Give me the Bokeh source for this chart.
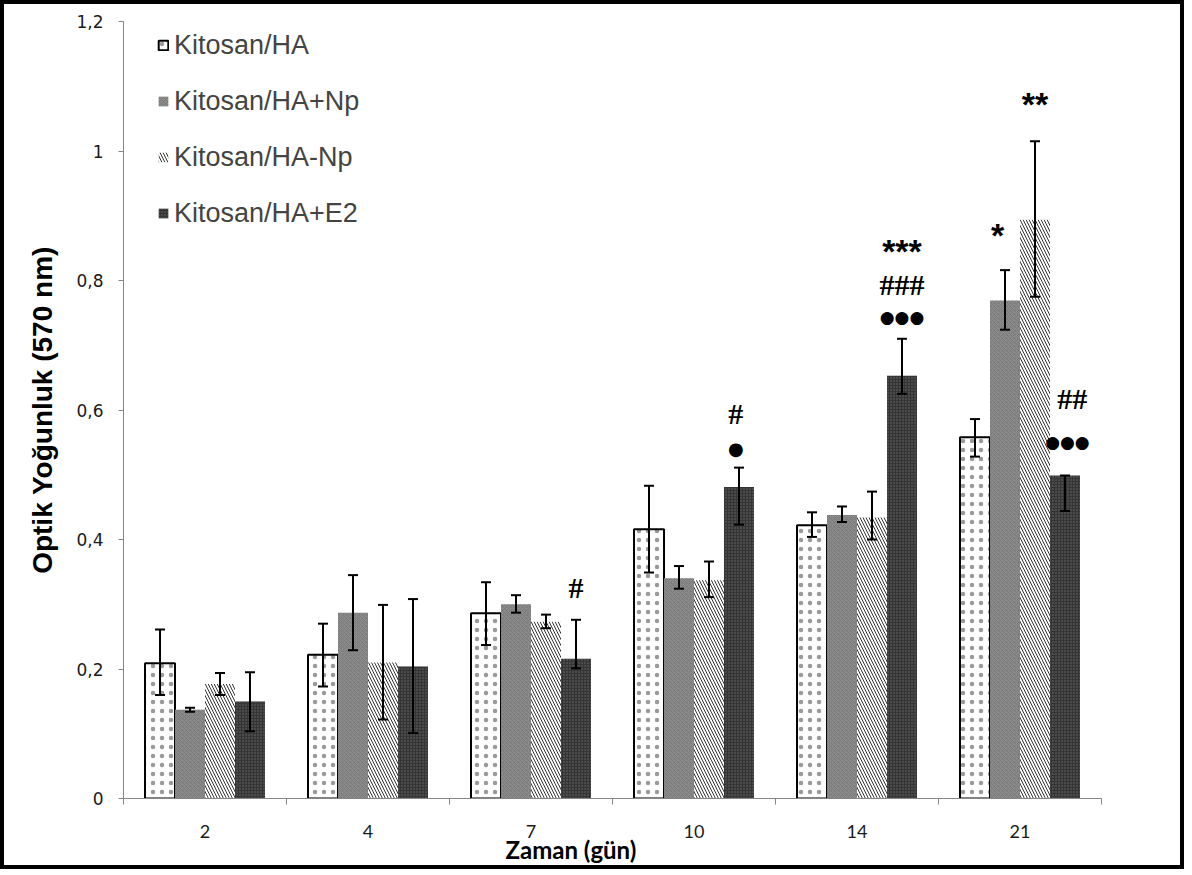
from bokeh.plotting import figure
from bokeh.models import (ColumnDataSource, Whisker, TeeHead, Legend, LegendItem,
                          FixedTicker, Title, Range1d)
from bokeh.transform import dodge
from bokeh.core.properties import value
from bokeh.embed import file_html
from bokeh.resources import INLINE

# ---------------- data ----------------
categories = ["2", "4", "7", "10", "14", "21"]
series = ["Kitosan/HA", "Kitosan/HA+Np", "Kitosan/HA-Np", "Kitosan/HA+E2"]

ha      = [0.209, 0.222, 0.286, 0.416, 0.422, 0.558]
ha_lo   = [0.160, 0.173, 0.237, 0.349, 0.404, 0.528]
ha_hi   = [0.261, 0.270, 0.334, 0.483, 0.442, 0.586]

hanp_p    = [0.137, 0.287, 0.300, 0.340, 0.438, 0.769]
hanp_p_lo = [0.134, 0.229, 0.287, 0.324, 0.427, 0.724]
hanp_p_hi = [0.140, 0.345, 0.314, 0.359, 0.451, 0.816]

hanp_m    = [0.177, 0.210, 0.273, 0.337, 0.434, 0.894]
hanp_m_lo = [0.160, 0.122, 0.263, 0.311, 0.400, 0.775]
hanp_m_hi = [0.194, 0.299, 0.284, 0.366, 0.474, 1.015]

e2      = [0.150, 0.204, 0.216, 0.481, 0.653, 0.499]
e2_lo   = [0.104, 0.101, 0.201, 0.423, 0.625, 0.444]
e2_hi   = [0.195, 0.308, 0.276, 0.511, 0.710, 0.499]

yticks = [0, 0.2, 0.4, 0.6, 0.8, 1.0, 1.2]
ytick_labels = ["0", "0,2", "0,4", "0,6", "0,8", "1", "1,2"]

# significance marks
hash_cat    = ["7", "10", "14", "21"]
hash_series = [3, 3, 3, 3]
hash_text   = ["#", "#", "###", "##"]
hash_y      = [0.326, 0.595, 0.794, 0.618]
hash_dx     = [0.0, -0.02, 0.0, 0.045]

star_cat    = ["14", "21", "21"]
star_series = [3, 1, 2]
star_text   = ["***", "*", "**"]
star_y      = [0.846, 0.871, 1.072]
star_dx     = [0.0, -0.045, 0.0]

dot_cat    = ["10", "14", "21"]
dot_series = [3, 3, 3]
dot_text   = ["●", "●●●", "●●●"]
dot_y      = [0.541, 0.743, 0.550]
dot_dx     = [-0.02, 0.0, 0.015]
dot_size   = ["18px", "17px", "17px"]

# ---------------- layout/style ----------------
bar_w = 0.184
offsets = [-1.5 * bar_w, -0.5 * bar_w, 0.5 * bar_w, 1.5 * bar_w]
axis_gray = "#868686"

p = figure(width=1184, height=869, output_backend="svg", toolbar_location=None,
           x_range=Range1d(0, len(categories)), y_range=Range1d(0, 1.2),
           min_border_left=119, min_border_right=87, min_border_top=17,
           min_border_bottom=75)
p.styles = {"border": "4px solid black"}
p.xgrid.visible = False
p.ygrid.visible = False
p.outline_line_color = None
p.background_fill_color = "white"

xc = [i + 0.5 for i in range(len(categories))]

vals = [(ha, ha_lo, ha_hi), (hanp_p, hanp_p_lo, hanp_p_hi),
        (hanp_m, hanp_m_lo, hanp_m_hi), (e2, e2_lo, e2_hi)]

styles = [
    dict(fill_color="white", line_color="black", line_width=2,
         hatch_pattern="dot", hatch_color="#9a9a9a", hatch_scale=9, hatch_weight=0.5),
    dict(fill_color="#8a8a8a", line_color=None,
         hatch_pattern="diagonal_cross", hatch_color="#727272", hatch_scale=4, hatch_weight=0.6),
    dict(fill_color="white", line_color=None,
         hatch_pattern="left_diagonal_line", hatch_color="#333333", hatch_scale=6, hatch_weight=1.0),
    dict(fill_color="#353535", line_color=None,
         hatch_pattern="dot", hatch_color="#6a6a6a", hatch_scale=3, hatch_weight=0.8),
]

renderers = []
for k, (v, lo, hi) in enumerate(vals):
    src = ColumnDataSource(dict(x=xc, top=v, lo=lo, hi=hi))
    r = p.vbar(x=dodge("x", offsets[k]), top="top", bottom=0, width=bar_w,
               source=src, **styles[k])
    renderers.append(r)
    w = Whisker(base=dodge("x", offsets[k]), upper="hi", lower="lo", source=src,
                line_color="black", line_width=2, level="overlay",
                upper_head=TeeHead(size=10, line_width=2, line_color="black"),
                lower_head=TeeHead(size=10, line_width=2, line_color="black"))
    p.add_layout(w)

cat_index = {c: i for i, c in enumerate(categories)}

def xs(cats, sers, dxs):
    return [cat_index[c] + 0.5 + offsets[s] + d for c, s, d in zip(cats, sers, dxs)]

p.text(x=xs(hash_cat, hash_series, hash_dx), y=hash_y, text=hash_text,
       text_align="center", text_baseline="middle",
       text_font=value("Liberation Serif"), text_font_style="bold",
       text_font_size="30px", text_color="black")
p.text(x=xs(star_cat, star_series, star_dx), y=star_y, text=star_text,
       text_align="center", text_baseline="middle",
       text_font=value("Liberation Sans"), text_font_style="bold",
       text_font_size="34px", text_color="black")
dsrc = ColumnDataSource(dict(x=xs(dot_cat, dot_series, dot_dx), y=dot_y,
                             t=dot_text, fs=dot_size))
p.text(x="x", y="y", text="t", source=dsrc, text_align="center", text_baseline="middle",
       text_font=value("DejaVu Sans"), text_font_size="fs", text_color="black")

# axes
xa = p.xaxis[0]
xa.ticker = FixedTicker(ticks=xc, minor_ticks=list(range(len(categories) + 1)))
xa.major_label_overrides = {x: c for x, c in zip(xc, categories)}
xa.major_tick_out = 0
xa.major_tick_in = 0
xa.minor_tick_out = 6
xa.minor_tick_in = 0
xa.minor_tick_line_color = axis_gray
xa.axis_line_color = axis_gray
xa.major_label_standoff = 20
xa.major_label_text_font = "Lato"
xa.major_label_text_font_size = "18px"
xa.major_label_text_color = "#1a1a1a"

ya = p.yaxis[0]
ya.ticker = FixedTicker(ticks=yticks)
ya.major_label_overrides = {t: l for t, l in zip(yticks, ytick_labels)}
ya.minor_tick_line_color = None
ya.major_tick_out = 5
ya.major_tick_in = 0
ya.major_tick_line_color = axis_gray
ya.axis_line_color = axis_gray
ya.major_label_standoff = 15
ya.major_label_text_font = "DejaVu Sans"
ya.major_label_text_font_size = "17px"
ya.major_label_text_color = "#1a1a1a"
ya.axis_label = "Optik Yoğunluk (570 nm)"
ya.axis_label_text_font = "Liberation Sans"
ya.axis_label_text_font_style = "bold"
ya.axis_label_text_font_size = "28px"
ya.axis_label_text_color = "black"
ya.axis_label_standoff = 15

xtitle = Title(text="Zaman (gün)", align="left", offset=382, standoff=-15,
               text_font="Lato", text_font_style="bold", text_font_size="24px",
               text_color="black")
p.add_layout(xtitle, "below")

legend = Legend(items=[LegendItem(label=s, renderers=[r]) for s, r in zip(series, renderers)],
                location=(34, 569), glyph_width=12, glyph_height=12,
                label_text_font="Liberation Sans", label_text_font_size="27px",
                label_height=32, spacing=24, padding=0, margin=0, label_standoff=5,
                border_line_color=None, background_fill_alpha=0)
p.add_layout(legend)

open("out.html", "w").write(file_html(p, INLINE))
